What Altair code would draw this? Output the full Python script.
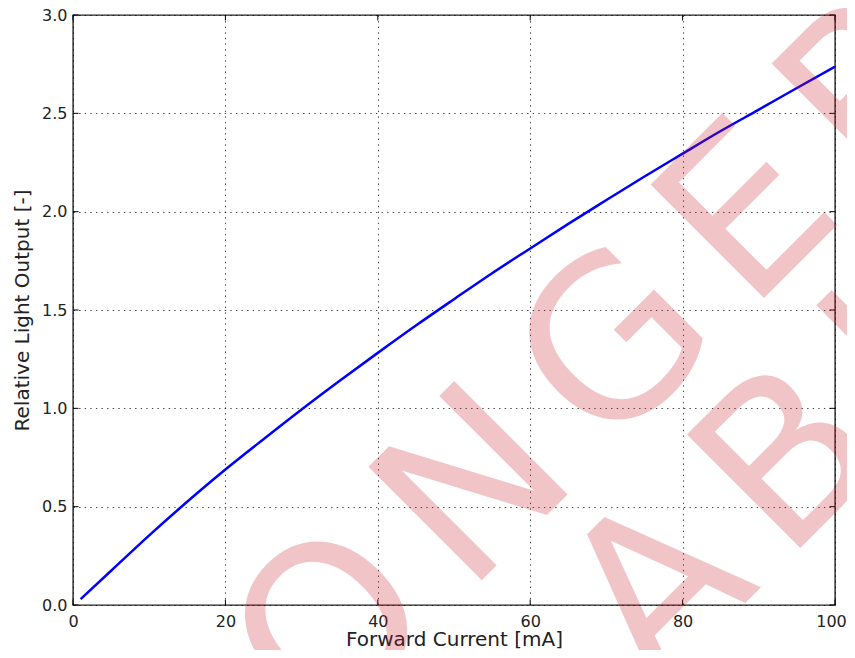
import math
import altair as alt
import pandas as pd

# ---------------- data ----------------
current_ma = [1, 5, 10, 14, 20, 25, 30, 35, 40, 45, 50, 55, 60, 65, 70,
              75, 80, 85, 90, 95, 100]
relative_light = [0.03, 0.174, 0.354, 0.492, 0.689, 0.843, 0.994, 1.14, 1.282,
                  1.421, 1.555, 1.687, 1.813, 1.938, 2.059, 2.179, 2.295, 2.41,
                  2.519, 2.629, 2.737]
x_ticks = [0, 20, 40, 60, 80, 100]
y_ticks = [0.0, 0.5, 1.0, 1.5, 2.0, 2.5, 3.0]
watermark_lines = ["NO LONGER", "AVAILABLE"]

# ---------------- layout ----------------
W, H = 762, 590
PAD = {"left": 65, "top": 7, "right": 12, "bottom": 45}
X_DOM, Y_DOM = [0, 100], [0, 3]
xs = alt.Scale(domain=X_DOM, nice=False, zero=False)
ys = alt.Scale(domain=Y_DOM, nice=False, zero=False)

# ---------------- watermark layout (text with tracking, rotated 45deg) ----
WM_FONT = 220
WM_TRACK = 32
ADV = {'N': 0.748, 'O': 0.787, ' ': 0.318, 'L': 0.557, 'G': 0.775,
       'E': 0.632, 'R': 0.695, 'A': 0.684, 'V': 0.684, 'I': 0.295, 'B': 0.686}
S_CENTERS = [-161.3, -95.6]     # line centres along the 45deg baseline
BASELINES = [751.0, 953.4]      # baseline offsets across it
ORIGIN = (8 + PAD["left"], 8 + PAD["top"])  # page position of plot origin
r2 = math.sqrt(2)


def to_data(page_x, page_y):
    px = page_x - ORIGIN[0]
    py = page_y - ORIGIN[1]
    return px / W * (X_DOM[1] - X_DOM[0]), (H - py) / H * (Y_DOM[1] - Y_DOM[0])


wm_rows = []
for line, sc, p in zip(watermark_lines, S_CENTERS, BASELINES):
    total = sum(ADV[c] * WM_FONT for c in line) + WM_TRACK * (len(line) - 1)
    s = sc - total / 2
    for c in line:
        if c != ' ':
            dx, dy = to_data((s + p) / r2, (p - s) / r2)
            wm_rows.append({"ch": c, "x": dx, "y": dy})
        s += ADV[c] * WM_FONT + WM_TRACK
wm_df = pd.DataFrame(wm_rows)

curve_df = pd.DataFrame({"current": current_ma, "light": relative_light})
xt_df = pd.DataFrame({"v": x_ticks})
yt_df = pd.DataFrame({"v": y_ticks})

X_TITLE = "Forward Current [mA]"
Y_TITLE = "Relative Light Output [-]"
x_axis = alt.Axis(values=x_ticks, format="d", title=X_TITLE,
                  labelPadding=8, labelFlush=False, labelOverlap=False,
                  labelOffset={"condition": {"test": "datum.value === 100",
                                             "value": -4},
                               "value": 0},
                  titleX=W / 2, titleY=40.5, titleBaseline="alphabetic",
                  titleAlign="center")
y_axis = alt.Axis(values=y_ticks, format=".1f", title=Y_TITLE,
                  labelPadding=6, labelFlush=False, labelOverlap=False,
                  titleX=-45, titleY=H / 2, titleAngle=270,
                  titleBaseline="alphabetic", titleAlign="center")


def X(field):
    return alt.X(field, scale=xs, axis=x_axis, title=X_TITLE)


def Y(field):
    return alt.Y(field, scale=ys, axis=y_axis, title=Y_TITLE)


curve = alt.Chart(curve_df).mark_line(
    color="#0000ff", strokeWidth=2.5, interpolate="monotone"
).encode(x=X("current:Q"), y=Y("light:Q"))

TK = 5.5
tick_bottom = alt.Chart(xt_df).mark_rule(color="#000", strokeWidth=1).encode(
    x=X("v:Q"), y=alt.value(H), y2=alt.value(H - TK))
tick_top = alt.Chart(xt_df).mark_rule(color="#000", strokeWidth=1).encode(
    x=X("v:Q"), y=alt.value(0), y2=alt.value(TK))
tick_left = alt.Chart(yt_df).mark_rule(color="#000", strokeWidth=1).encode(
    y=Y("v:Q"), x=alt.value(0), x2=alt.value(TK))
tick_right = alt.Chart(yt_df).mark_rule(color="#000", strokeWidth=1).encode(
    y=Y("v:Q"), x=alt.value(W), x2=alt.value(W - TK))

watermark = alt.Chart(wm_df).mark_text(
    align="left", baseline="alphabetic", angle=315, font="DejaVu Sans",
    fontSize=WM_FONT, color="#c8101a", opacity=0.24
).encode(x=X("x:Q"), y=Y("y:Q"), text="ch:N")

chart = alt.layer(
    curve, tick_bottom, tick_top, tick_left, tick_right, watermark
).properties(
    width=W, height=H,
    autosize=alt.AutoSizeParams(type="none"),
    padding=PAD,
    background="white",
).configure_view(
    stroke="#222222", strokeWidth=1.4
).configure_axis(
    labelFont="DejaVu Sans", labelFontSize=16, labelColor="#222222",
    titleFont="DejaVu Sans", titleFontSize=20, titleFontWeight="normal",
    titleColor="#222222", domain=False, ticks=False, tickSize=0,
    grid=True, gridColor="#000000", gridDash=[1.4, 4.2], gridWidth=0.8,
    gridOpacity=0.9,
)

chart.save("out.html", embed_options={"renderer": "svg", "actions": False})
